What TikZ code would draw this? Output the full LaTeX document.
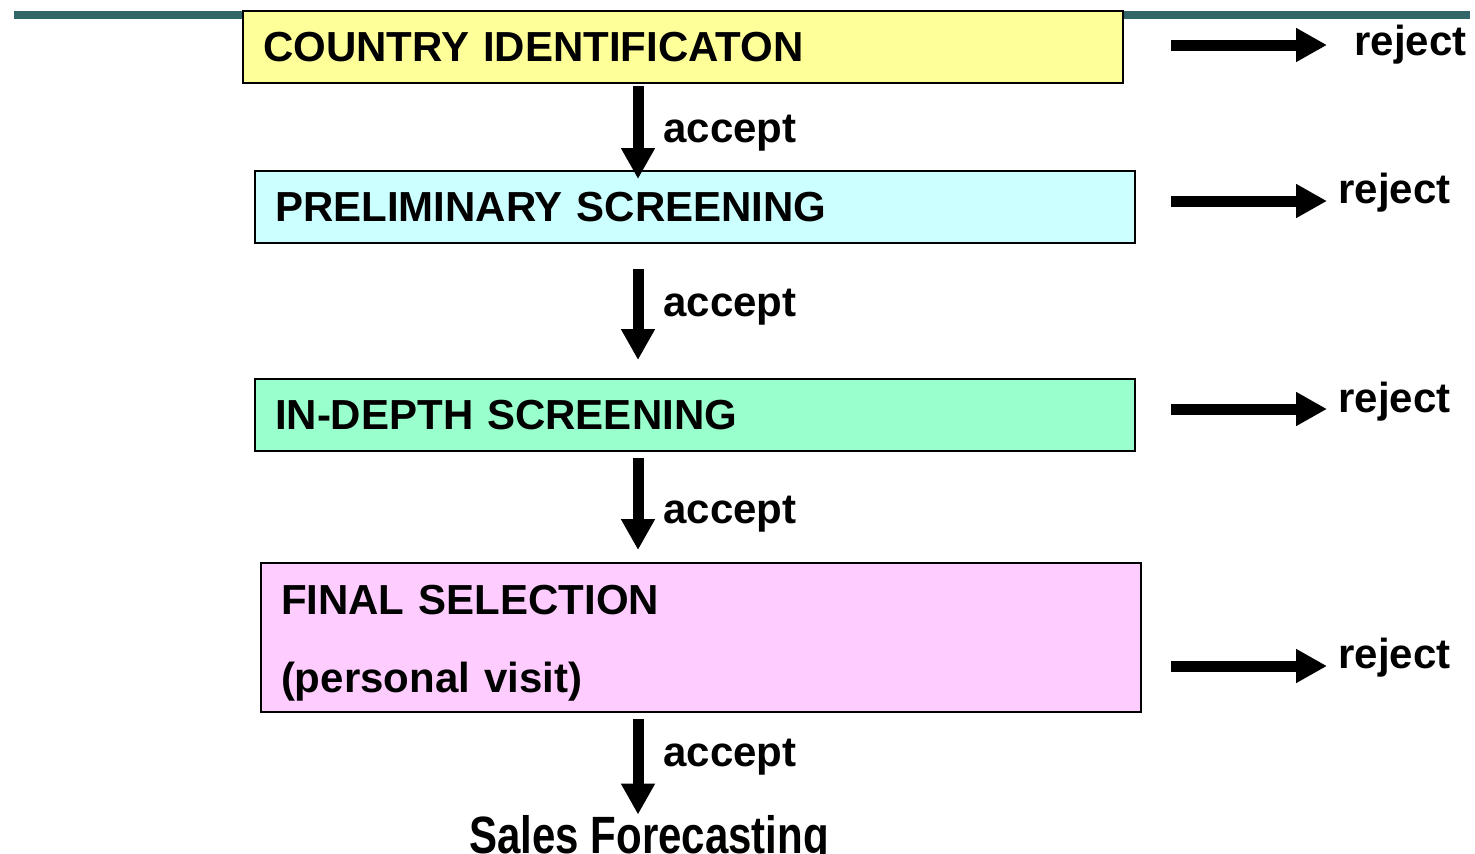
\documentclass[tikz,border=0pt]{standalone}
\usepackage{fontspec}
\setmainfont{Liberation Sans}
\usetikzlibrary{arrows.meta}
\definecolor{teal1}{HTML}{336666}
\definecolor{byel}{HTML}{FFFF99}
\definecolor{bcyan}{HTML}{CCFFFF}
\definecolor{bgreen}{HTML}{99FFCC}
\definecolor{bpink}{HTML}{FFCCFF}
\tikzset{
  box/.style={draw=black, line width=1pt, anchor=north west, minimum width=440pt,
    minimum height=36pt, inner xsep=10pt, inner ysep=0pt, text width=420pt, align=left,
    font=\fontsize{21}{24}\selectfont\bfseries},
  lbl/.style={anchor=base west, inner sep=0pt, font=\fontsize{21}{24}\selectfont\bfseries},
  arr/.style={line width=5.5pt, -{Triangle[length=15.5pt,width=16pt]}}
}
\begin{document}
\begin{tikzpicture}[x=0.5pt,y=-0.5pt]
\useasboundingbox (0,0) rectangle (1475,853);
\fill[white] (0,0) rectangle (1475,853);
% top bar
\fill[teal1] (14,11) rectangle (1470,19);
% boxes
\node[box, fill=byel] (b1) at (242,10) {COUNTRY IDENTIFICATON};
\node[box, fill=bcyan] (b2) at (254,170) {PRELIMINARY SCREENING};
\node[box, fill=bgreen] (b3) at (254,378) {IN-DEPTH SCREENING};
\node[box, fill=bpink, minimum height=74.5pt] (b4) at (260,562) {\rule{0pt}{20pt}FINAL SELECTION\\[15pt](personal visit)};
% labels
\node[lbl] (a1) at (663,142) {accept};
\node[lbl] (a2) at (663,316) {accept};
\node[lbl] (a3) at (663,523) {accept};
\node[lbl] (a4) at (663,766) {accept};
\node[lbl] (j1) at (1354,55) {reject};
\node[lbl] (j2) at (1338,203) {reject};
\node[lbl] (j3) at (1338,412) {reject};
\node[lbl] (j4) at (1338,668) {reject};
\node[lbl] (sf) at (469,853) {\scalebox{1}[1.25]{Sales Forecasting}};
% coordinates
\coordinate (ax) at (638,0);
\coordinate (r1) at (1327,45);
\coordinate (r2) at (1327,201);
\coordinate (r3) at (1327,409);
\coordinate (r4) at (1327,666);
% accept arrows
\draw[arr, shorten <=1pt, shorten >=-4.5pt] (b1.south -| ax) -- (b2.north -| ax);
\draw[arr, shorten <=12.5pt, shorten >=9pt] (b2.south -| ax) -- (b3.north -| ax);
\draw[arr, shorten <=3pt, shorten >=6pt] (b3.south -| ax) -- (b4.north -| ax);
\draw[arr, shorten <=3pt, shorten >=0pt] (b4.south -| ax) -- (sf.north -| ax);
% reject arrows
\draw[arr, shorten <=23.5pt] (b1.east |- r1) -- (r1);
\draw[arr, shorten <=17.5pt] (b2.east |- r2) -- (r2);
\draw[arr, shorten <=17.5pt] (b3.east |- r3) -- (r3);
\draw[arr, shorten <=14.5pt] (b4.east |- r4) -- (r4);
\end{tikzpicture}
\end{document}
